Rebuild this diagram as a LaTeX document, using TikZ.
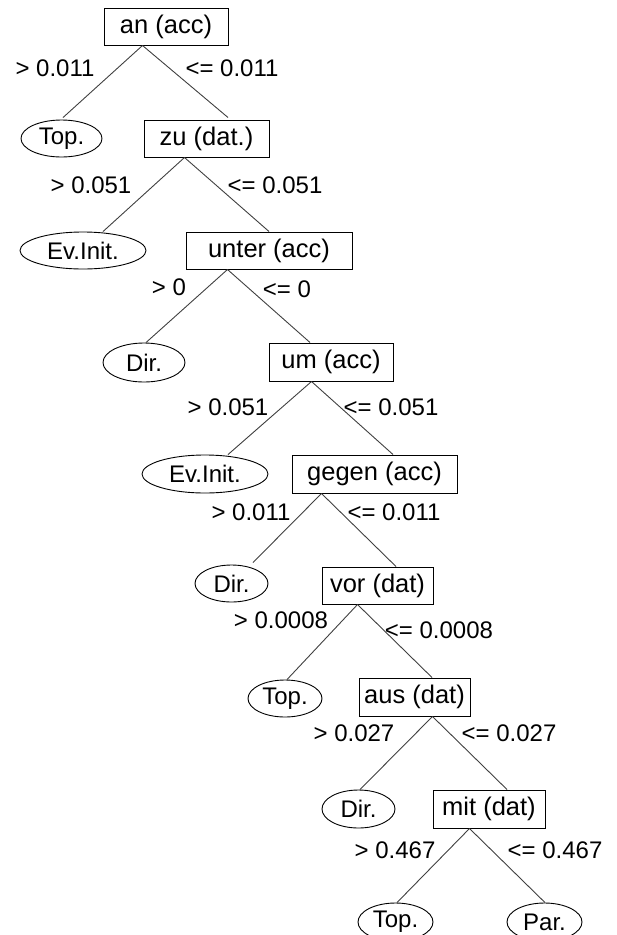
\documentclass[tikz,border=0pt]{standalone}
\usepackage{fontspec}
\setmainfont{Liberation Sans}
\usetikzlibrary{calc,shapes.geometric}
\begin{document}
\begin{tikzpicture}[x=1pt,y=-1pt,
  every node/.style={font=\fontsize{24}{28}\selectfont},
  splitbox/.style={draw=black,line width=1pt,rectangle,inner sep=0pt,minimum height=37pt,font=\fontsize{25.5}{30}\selectfont},
  leaf/.style={draw=black,line width=0.9pt,ellipse,inner sep=0pt,minimum height=37pt},
  edge/.style={draw=black!75,line width=0.9pt},
  lab/.style={inner sep=0pt}]
\useasboundingbox (0,0) rectangle (617,935);
% decision nodes
\node[splitbox,minimum width=124pt] (an) at (166,26.5) {an (acc)};
\node[splitbox,minimum width=125pt] (zu) at (206.5,138.5) {zu (dat.)};
\node[splitbox,minimum width=166pt] (unter) at (269,250.5) {unter (acc)};
\node[splitbox,minimum width=124pt,minimum height=38pt] (um) at (331,362) {um (acc)};
\node[splitbox,minimum width=165pt,minimum height=38pt] (gegen) at (374.5,474) {gegen (acc)};
\node[splitbox,minimum width=111pt] (vor) at (377.5,585.5) {vor (dat)};
\node[splitbox,minimum width=111pt,minimum height=38pt] (aus) at (414.5,697) {aus (dat)};
\node[splitbox,minimum width=112pt,minimum height=38pt] (mit) at (489,809) {mit (dat)};
% leaves
\node[leaf,minimum width=81pt] (top1) at (61.5,138.5) {Top.};
\node[leaf,minimum width=126pt] (ev1) at (83,250.5) {Ev.Init.};
\node[leaf,minimum width=82pt,minimum height=39pt] (dir1) at (144,362.5) {Dir.};
\node[leaf,minimum width=126pt,minimum height=38pt] (ev2) at (205,474) {Ev.Init.};
\node[leaf,minimum width=73pt] (dir2) at (231.5,583.5) {Dir.};
\node[leaf,minimum width=74pt] (top2) at (285,698.5) {Top.};
\node[leaf,minimum width=73pt,minimum height=38pt] (dir3) at (358.5,809) {Dir.};
\node[leaf,minimum width=75pt,minimum height=38pt] (top3) at (395.5,922) {Top.};
\node[leaf,minimum width=75pt,minimum height=38pt] (par) at (544.5,922) {Par.};
% edges
\draw[edge] ($(an.south west)+(39,0)$) -- ($(top1.north)+(1.5,-2)$);
\draw[edge] ($(an.south west)+(39,0)$) -- ($(zu.north)+(21.5,-2)$);
\draw[edge] ($(zu.south west)+(41,0)$) -- ($(ev1.north)+(20,0)$);
\draw[edge] ($(zu.south west)+(41,0)$) -- (unter.north);
\draw[edge] ($(unter.south west)+(42,0)$) -- ($(dir1.north)+(2,0)$);
\draw[edge] ($(unter.south west)+(42,0)$) -- ($(um.north)+(-21,0)$);
\draw[edge] ($(um.south west)+(43,0)$) -- ($(ev2.north)+(23,0)$);
\draw[edge] ($(um.south west)+(43,0)$) -- ($(gegen.north)+(18.5,0)$);
\draw[edge] ($(gegen.south west)+(30,0)$) -- ($(dir2.north)+(21.5,-2)$);
\draw[edge] ($(gegen.south west)+(30,0)$) -- ($(vor.north)+(18.5,0)$);
\draw[edge] ($(vor.south west)+(36,0)$) -- ($(top2.north)+(2,0)$);
\draw[edge] ($(vor.south west)+(36,0)$) -- ($(aus.north)+(17.5,0)$);
\draw[edge] ($(aus.south west)+(74,0)$) -- ($(dir3.north)+(1.5,0)$);
\draw[edge] ($(aus.south west)+(74,0)$) -- ($(mit.north)+(18,0)$);
\draw[edge] ($(mit.south west)+(37,0)$) -- ($(top3.north)+(1.5,0)$);
\draw[edge] ($(mit.south west)+(37,0)$) -- ($(par.north)+(0.5,0)$);
% labels
\node[lab] (l1) at (55,68) {> 0.011};
\node[lab] (r1) at (232,68) {<= 0.011};
\node[lab] (l2) at (91,185) {> 0.051};
\node[lab] (r2) at (275,185) {<= 0.051};
\node[lab] (l3) at (169,287) {> 0};
\node[lab] (r3) at (287,289) {<= 0};
\node[lab] (l4) at (228,407) {> 0.051};
\node[lab] (r4) at (391,407) {<= 0.051};
\node[lab] (l5) at (251,512) {> 0.011};
\node[lab] (r5) at (394,512) {<= 0.011};
\node[lab] (l6) at (281,620) {> 0.0008};
\node[lab] (r6) at (439,630) {<= 0.0008};
\node[lab] (l7) at (354,733) {> 0.027};
\node[lab] (r7) at (509,733) {<= 0.027};
\node[lab] (l8) at (395,850) {> 0.467};
\node[lab] (r8) at (555,850) {<= 0.467};
\end{tikzpicture}
\end{document}
